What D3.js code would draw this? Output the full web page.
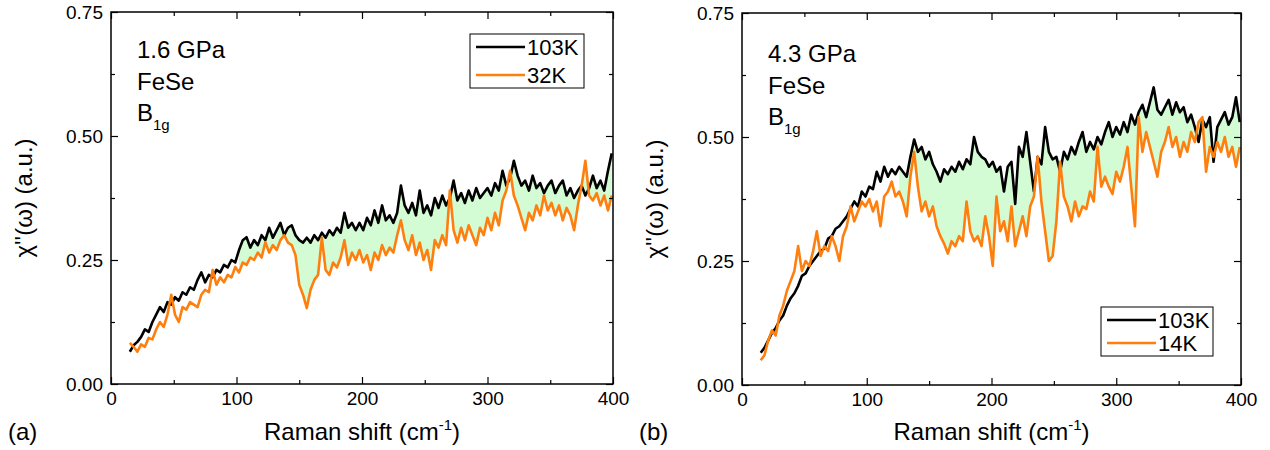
<!DOCTYPE html>
<html>
<head>
<meta charset="utf-8">
<script src="https://cdn.jsdelivr.net/npm/d3@7"></script>
<style>
  body { margin: 0; background: #fff; }
  svg { display: block; }
  text { font-family: "Liberation Sans", Arial, sans-serif; fill: #000; }
</style>
</head>
<body>
<svg id="chart" width="1270" height="450"></svg>
<script>
// Raman shift grid (cm-1), shared by all series
const shift = d3.range(15, 400, 3);

// Panel (a): 1.6 GPa
const a_103K = [
  0.065,0.078,0.085,0.095,0.11,0.105,0.125,0.14,0.155,0.145,
  0.165,0.16,0.175,0.168,0.185,0.18,0.195,0.19,0.21,0.225,
  0.205,0.22,0.215,0.23,0.225,0.24,0.235,0.25,0.245,0.27,
  0.29,0.296,0.275,0.29,0.28,0.30,0.29,0.315,0.295,0.31,
  0.325,0.30,0.315,0.32,0.30,0.29,0.285,0.295,0.285,0.30,
  0.29,0.305,0.295,0.31,0.30,0.315,0.305,0.345,0.315,0.325,
  0.31,0.325,0.31,0.335,0.32,0.35,0.325,0.36,0.33,0.34,
  0.325,0.345,0.40,0.36,0.345,0.365,0.34,0.39,0.345,0.36,
  0.34,0.375,0.355,0.38,0.36,0.375,0.41,0.37,0.385,0.365,
  0.39,0.37,0.395,0.375,0.385,0.395,0.38,0.405,0.39,0.43,
  0.40,0.415,0.45,0.42,0.40,0.41,0.39,0.42,0.395,0.405,
  0.385,0.40,0.41,0.385,0.40,0.41,0.38,0.395,0.375,0.39,
  0.40,0.38,0.395,0.42,0.395,0.41,0.39,0.43,0.465];
const a_32K = [
  0.083,0.075,0.065,0.08,0.075,0.093,0.09,0.11,0.125,0.115,
  0.14,0.18,0.14,0.125,0.155,0.15,0.165,0.16,0.155,0.18,
  0.19,0.185,0.23,0.20,0.215,0.205,0.22,0.215,0.236,0.225,
  0.245,0.24,0.255,0.25,0.265,0.255,0.286,0.265,0.28,0.27,
  0.29,0.30,0.285,0.28,0.26,0.20,0.18,0.153,0.19,0.21,
  0.22,0.295,0.23,0.22,0.245,0.235,0.255,0.29,0.24,0.265,
  0.25,0.27,0.245,0.26,0.23,0.265,0.25,0.28,0.26,0.275,
  0.265,0.30,0.33,0.29,0.27,0.30,0.26,0.285,0.25,0.27,
  0.23,0.29,0.275,0.30,0.28,0.39,0.31,0.285,0.315,0.29,
  0.32,0.30,0.28,0.315,0.30,0.335,0.31,0.345,0.32,0.37,
  0.39,0.43,0.38,0.36,0.335,0.31,0.345,0.33,0.36,0.34,
  0.38,0.35,0.365,0.34,0.36,0.33,0.355,0.34,0.31,0.36,
  0.40,0.45,0.38,0.37,0.385,0.36,0.38,0.35,0.38];

// Panel (b): 4.3 GPa
const b_103K = [
  0.065,0.075,0.09,0.105,0.115,0.13,0.14,0.16,0.175,0.185,
  0.20,0.22,0.225,0.24,0.25,0.26,0.27,0.275,0.295,0.30,
  0.315,0.32,0.33,0.34,0.355,0.37,0.36,0.39,0.38,0.40,
  0.395,0.43,0.41,0.44,0.42,0.435,0.425,0.44,0.43,0.42,
  0.46,0.495,0.47,0.48,0.455,0.47,0.445,0.43,0.41,0.435,
  0.425,0.44,0.43,0.45,0.435,0.455,0.445,0.50,0.47,0.46,
  0.455,0.44,0.45,0.43,0.44,0.39,0.44,0.45,0.365,0.48,
  0.46,0.51,0.45,0.39,0.46,0.445,0.52,0.47,0.455,0.46,
  0.43,0.47,0.455,0.48,0.465,0.49,0.51,0.47,0.49,0.475,
  0.50,0.485,0.51,0.53,0.50,0.52,0.505,0.53,0.51,0.545,
  0.525,0.55,0.565,0.54,0.57,0.60,0.555,0.545,0.56,0.575,
  0.545,0.57,0.55,0.56,0.53,0.545,0.52,0.49,0.535,0.52,
  0.54,0.45,0.52,0.535,0.55,0.525,0.54,0.58,0.53];
const b_14K = [
  0.05,0.06,0.09,0.11,0.10,0.14,0.16,0.19,0.21,0.23,
  0.28,0.23,0.25,0.24,0.27,0.31,0.26,0.28,0.27,0.30,
  0.28,0.25,0.30,0.32,0.36,0.33,0.35,0.37,0.36,0.375,
  0.35,0.37,0.32,0.38,0.39,0.41,0.38,0.39,0.37,0.34,
  0.42,0.47,0.40,0.35,0.37,0.34,0.36,0.32,0.30,0.285,
  0.265,0.29,0.28,0.30,0.29,0.37,0.31,0.29,0.30,0.28,
  0.34,0.30,0.24,0.38,0.31,0.33,0.29,0.36,0.28,0.31,
  0.34,0.30,0.36,0.38,0.46,0.37,0.31,0.25,0.26,0.33,
  0.45,0.38,0.36,0.33,0.37,0.34,0.36,0.355,0.39,0.37,
  0.48,0.40,0.42,0.40,0.385,0.43,0.41,0.44,0.48,0.40,
  0.32,0.54,0.47,0.51,0.48,0.45,0.42,0.47,0.49,0.52,
  0.48,0.50,0.46,0.49,0.47,0.51,0.49,0.53,0.54,0.43,
  0.48,0.46,0.49,0.47,0.50,0.46,0.48,0.44,0.48];

const xTicks = [0, 100, 200, 300, 400];
const xMinor = [50, 150, 250, 350];
const yTicks = [0, 0.25, 0.5, 0.75];
const yMinor = [0.125, 0.375, 0.625];

const panels = [
  { label: "(a)", pressure: "1.6 GPa", hot: a_103K, cold: a_32K, hotName: "103K", coldName: "32K",
    box: { l: 111, r: 613, t: 12, b: 384 }, fillFrom: 100,
    legend: { x: 470, y: 34, w: 114, h: 54 }, textY: 58 },
  { label: "(b)", pressure: "4.3 GPa", hot: b_103K, cold: b_14K, hotName: "103K", coldName: "14K",
    box: { l: 742, r: 1241, t: 13, b: 385 }, fillFrom: 124,
    legend: { x: 1101, y: 307, w: 112, h: 49 }, textY: 62 }
];

const svg = d3.select("#chart");
svg.append("rect").attr("width", 1270).attr("height", 450).attr("fill", "#fff");

const BLACK = "#000000", ORANGE = "#ff7f0e", FILL = "#d4fcd4";

panels.forEach(p => {
  const x = d3.scaleLinear().domain([0, 400]).range([p.box.l, p.box.r]);
  const y = d3.scaleLinear().domain([0, 0.75]).range([p.box.b, p.box.t]);
  const g = svg.append("g");
  const data = shift.map((s, i) => ({ s, hot: p.hot[i], cold: p.cold[i] }));

  // fill between curves
  g.append("path")
    .datum(data.filter(d => d.s >= p.fillFrom))
    .attr("fill", FILL)
    .attr("d", d3.area().x(d => x(d.s)).y0(d => y(d.cold)).y1(d => y(d.hot)));

  const line = key => d3.line().x(d => x(d.s)).y(d => y(d[key]));
  g.append("path").datum(data).attr("fill", "none").attr("stroke", BLACK)
    .attr("stroke-width", 2.6).attr("stroke-linejoin", "round").attr("d", line("hot"));
  g.append("path").datum(data).attr("fill", "none").attr("stroke", ORANGE)
    .attr("stroke-width", 2.6).attr("stroke-linejoin", "round").attr("d", line("cold"));

  // axes (ticks inward)
  const fmtY = d3.format(".2f");
  const styleAxis = sel => {
    sel.select(".domain").remove();
    sel.selectAll("line").attr("stroke", "#000").attr("stroke-width", 1.2);
    sel.selectAll("text").style("font-family", '"Liberation Sans", Arial, sans-serif')
      .style("font-size", "19px").attr("fill", "#000");
  };
  g.append("g").attr("transform", `translate(0,${p.box.b})`)
    .call(d3.axisBottom(x).tickValues(xTicks).tickSize(-7).tickPadding(8).tickFormat(d3.format("d"))).call(styleAxis);
  g.append("g").attr("transform", `translate(0,${p.box.b})`)
    .call(d3.axisBottom(x).tickValues(xMinor).tickSize(-4).tickFormat("")).call(styleAxis);
  g.append("g").attr("transform", `translate(0,${p.box.t})`)
    .call(d3.axisTop(x).tickValues(xTicks).tickSize(-7).tickFormat("")).call(styleAxis);
  g.append("g").attr("transform", `translate(0,${p.box.t})`)
    .call(d3.axisTop(x).tickValues(xMinor).tickSize(-4).tickFormat("")).call(styleAxis);
  g.append("g").attr("transform", `translate(${p.box.l},0)`)
    .call(d3.axisLeft(y).tickValues(yTicks).tickSize(-7).tickPadding(8).tickFormat(fmtY)).call(styleAxis);
  g.append("g").attr("transform", `translate(${p.box.l},0)`)
    .call(d3.axisLeft(y).tickValues(yMinor).tickSize(-4).tickFormat("")).call(styleAxis);
  g.append("g").attr("transform", `translate(${p.box.r},0)`)
    .call(d3.axisRight(y).tickValues(yTicks).tickSize(-7).tickFormat("")).call(styleAxis);
  g.append("g").attr("transform", `translate(${p.box.r},0)`)
    .call(d3.axisRight(y).tickValues(yMinor).tickSize(-4).tickFormat("")).call(styleAxis);

  // frame
  g.append("rect").attr("x", p.box.l).attr("y", p.box.t)
    .attr("width", p.box.r - p.box.l).attr("height", p.box.b - p.box.t)
    .attr("fill", "none").attr("stroke", "#000").attr("stroke-width", 1.5);

  // annotations
  const tx = p.box.l + 26;
  g.append("text").attr("x", tx).attr("y", p.textY).style("font-size", "24px").text(p.pressure);
  g.append("text").attr("x", tx).attr("y", p.textY + 32).style("font-size", "24px").text("FeSe");
  const bt = g.append("text").attr("x", tx).attr("y", p.textY + 63).style("font-size", "24px");
  bt.append("tspan").text("B");
  bt.append("tspan").attr("dy", 9).style("font-size", "15px").text("1g");

  // legend
  const L = p.legend;
  g.append("rect").attr("x", L.x).attr("y", L.y).attr("width", L.w).attr("height", L.h)
    .attr("fill", "#fff").attr("stroke", "#000").attr("stroke-width", 1);
  [[p.hotName, BLACK], [p.coldName, ORANGE]].forEach(([name, col], i) => {
    const ly = L.y + 13 + i * (L.h - 26);
    g.append("line").attr("x1", L.x + 6).attr("x2", L.x + 55).attr("y1", ly).attr("y2", ly)
      .attr("stroke", col).attr("stroke-width", 2.6);
    g.append("text").attr("x", L.x + 57).attr("y", ly + 8).style("font-size", "22px").text(name);
  });

  // axis titles
  const mid = (p.box.l + p.box.r) / 2;
  const xt = g.append("text").attr("x", mid).attr("y", 440).attr("text-anchor", "middle").style("font-size", "24px");
  xt.append("tspan").text("Raman shift (cm");
  xt.append("tspan").attr("dy", -10).style("font-size", "15px").text("-1");
  xt.append("tspan").attr("dy", 10).text(")");

  g.append("text").attr("transform", `translate(${p.box.l - 79},${(p.box.t + p.box.b) / 2}) rotate(-90)`)
    .attr("text-anchor", "middle").style("font-size", "24px").text("χ''(ω) (a.u.)");

  g.append("text").attr("x", p.box.l - 103).attr("y", 440).style("font-size", "24px").text(p.label);
});
</script>
</body>
</html>
